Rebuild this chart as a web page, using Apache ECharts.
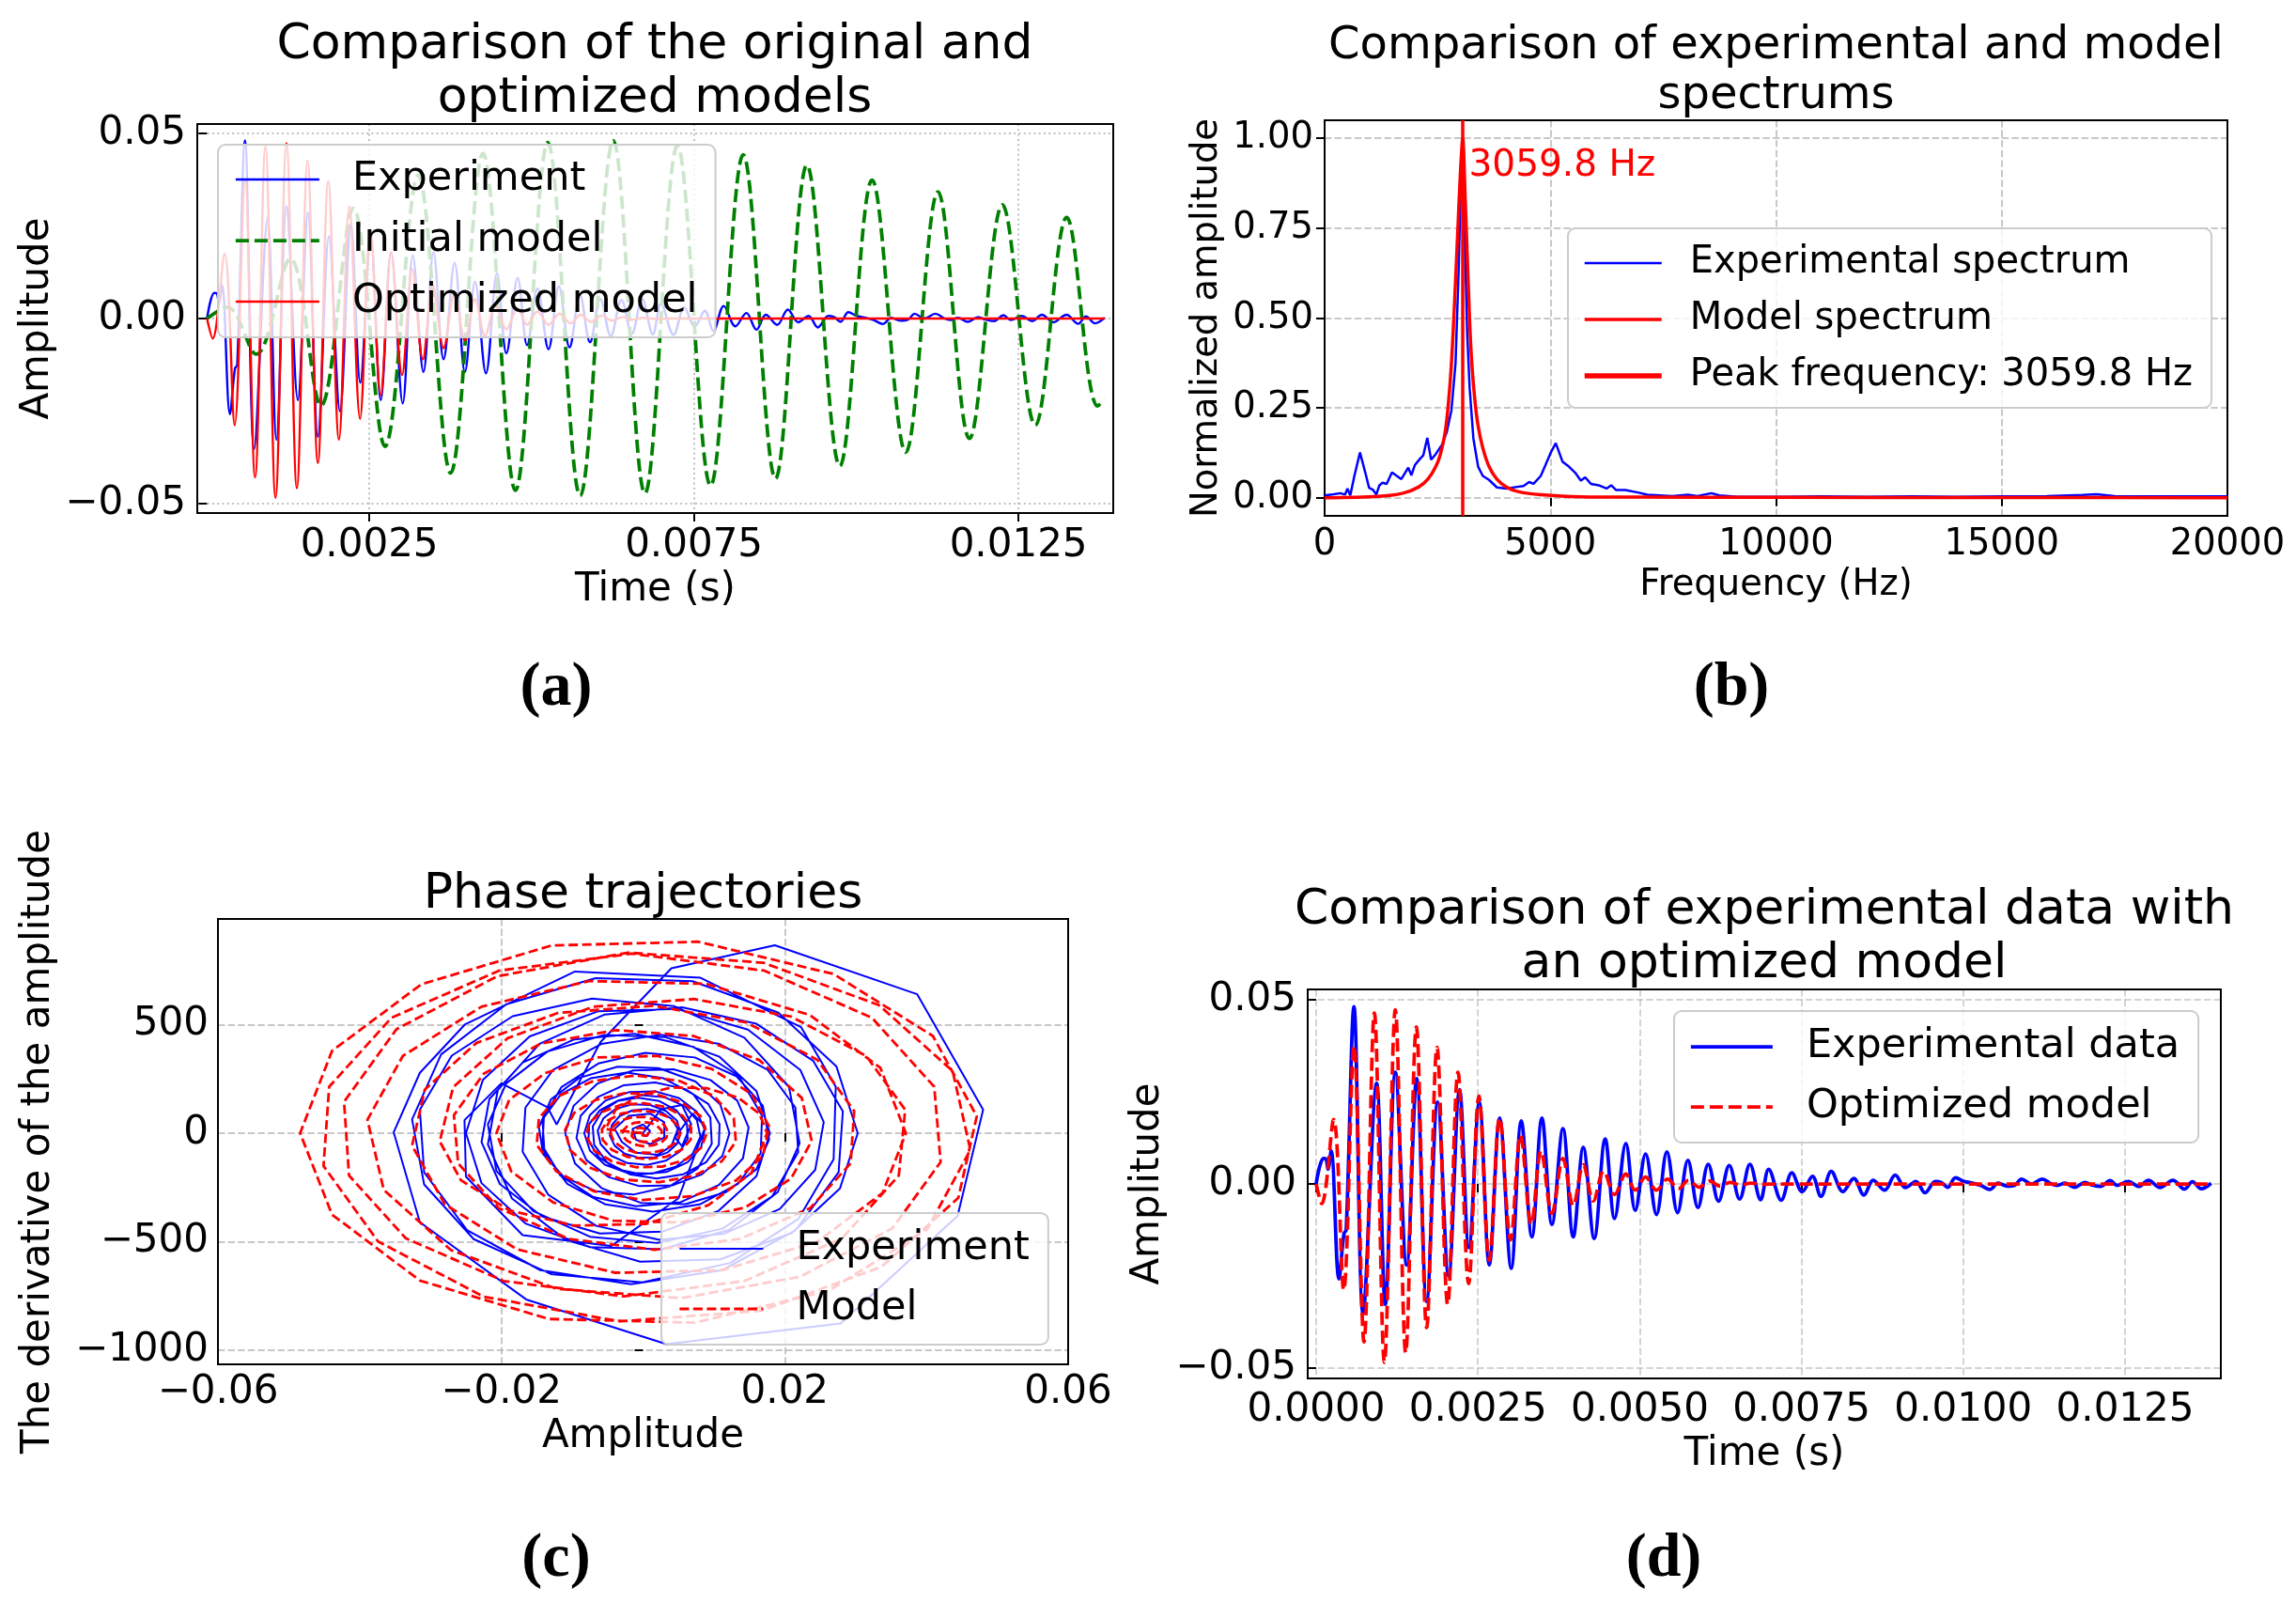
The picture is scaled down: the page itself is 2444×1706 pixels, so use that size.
<!DOCTYPE html>
<html><head><meta charset="utf-8">
<script src="https://cdn.jsdelivr.net/npm/echarts@6/dist/echarts.min.js"></script>
<style>html,body{margin:0;padding:0;background:#fff}#c{width:2444px;height:1706px}</style>
</head><body><div id="c"></div>
<script>
// ---------- (a)/(d) time signals: [time (s), amplitude] ----------
const experimentSignal = [
[0,0],[0.000111,0.0069],[0.000150,0.0068],[0.000184,0.0040],[0.000232,0.0090],[0.000353,-0.0258],[0.000430,-0.0135],[0.000465,-0.0125],
[0.000585,0.0481],[0.000726,-0.0352],[0.000934,0.0273],[0.001069,-0.0327],[0.001224,0.0303],[0.001399,-0.0220],[0.001553,0.0286],
[0.001708,-0.0319],[0.001878,0.0222],[0.002047,-0.0250],[0.002216,0.0256],[0.002361,-0.0173],[0.002521,0.0222],[0.002676,-0.0220],
[0.002836,0.0179],[0.003015,-0.0229],[0.003170,0.0171],[0.003334,-0.0144],[0.003489,0.0179],[0.003644,-0.0110],[0.003814,0.0150],
[0.003973,-0.0144],[0.004128,0.0099],[0.004297,-0.0148],[0.004467,0.0122],[0.004612,-0.0094],[0.004786,0.0110],[0.004931,-0.0072],
[0.005091,0.0081],[0.005260,-0.0083],[0.005420,0.0087],[0.005585,-0.0078],[0.005745,0.0064],[0.005900,-0.0064],[0.006059,0.0053],
[0.006219,-0.0047],[0.006384,0.0050],[0.006544,-0.0041],[0.006703,0.0053],[0.006868,-0.0043],[0.006993,0.0040],[0.007187,-0.0044],
[0.007351,0.0030],[0.007511,-0.0021],[0.007670,0.0021],[0.007800,-0.0034],[0.007960,0.0034],[0.008139,-0.0021],[0.008309,0.0015],
[0.008464,-0.0030],[0.008609,0.0010],[0.008783,-0.0017],[0.008948,0.0024],[0.009107,-0.0010],[0.009267,0.0007],[0.009410,-0.0024],
[0.009570,0.0007],[0.009660,0.0004],[0.009760,-0.0009],[0.009880,0.0017],[0.010010,0.0007],[0.010150,0.0002],[0.010270,-0.0004],
[0.010410,-0.0015],[0.010540,0.0002],[0.010680,-0.0006],[0.010800,-0.0003],[0.010900,0.0013],[0.011050,0.0000],[0.011220,0.0013],
[0.011360,0.0000],[0.011450,-0.0004],[0.011570,0.0002],[0.011720,-0.0009],[0.011880,0.0004],[0.011990,-0.0003],[0.012120,-0.0007],
[0.012270,0.0009],[0.012380,-0.0004],[0.012550,0.0007],[0.012710,-0.0007],[0.012860,0.0010],[0.013040,-0.0010],[0.013240,0.0010],
[0.013420,-0.0014],[0.013540,0.0006],[0.013680,-0.0013],[0.013830,0.0002]
];
const optimizedModelSignal = [
[0,0],[0.000087,-0.0054],[0.000271,0.0175],[0.000426,-0.0288],[0.000585,0.0375],[0.000740,-0.0429],[0.000900,0.0464],[0.001055,-0.0484],
[0.001224,0.0473],[0.001384,-0.0458],[0.001549,0.0426],[0.001708,-0.0390],[0.001868,0.0371],[0.002033,-0.0327],[0.002192,0.0303],
[0.002357,-0.0271],[0.002516,0.0239],[0.002676,-0.0207],[0.002836,0.0179],[0.003005,-0.0152],[0.003160,0.0133],[0.003325,-0.0110],
[0.003475,0.0090],[0.003644,-0.0080],[0.003814,0.0069],[0.003973,-0.0059],[0.004128,0.0052],[0.004283,-0.0046],[0.004443,0.0035],
[0.004612,-0.0029],[0.004786,0.0027],[0.004931,-0.0017],[0.005090,0.0019],[0.005260,-0.0017],[0.005430,0.0013],[0.005600,-0.0013],
[0.005755,0.0010],[0.005920,-0.0009],[0.006080,0.0008],[0.006240,-0.0006],[0.006400,0.0004],[0.006560,-0.0003],[0.006720,0.0002],
[0.006900,-0.0001],[0.007100,0],[0.013830,0]
];
const initialModelSignal = [
[0,0],[0.000312,0.0031],[0.000757,-0.0096],[0.001283,0.0162],[0.001755,-0.0235],[0.002254,0.0298],[0.002742,-0.0345],[0.003252,0.0387],
[0.003752,-0.0417],[0.004251,0.0446],[0.004751,-0.0464],[0.005249,0.0475],[0.005748,-0.0478],[0.006258,0.0480],[0.006746,-0.0472],
[0.007246,0.0467],[0.007757,-0.0451],[0.008260,0.0442],[0.008757,-0.0432],[0.009241,0.0414],[0.009748,-0.0398],[0.010245,0.0374],
[0.010764,-0.0361],[0.011260,0.0342],[0.011745,-0.0324],[0.012252,0.0307],[0.012759,-0.0288],[0.013243,0.0273],[0.013720,-0.0236],
[0.013830,-0.0220]
];
// ---------- (b) spectra: [frequency (Hz), normalized amplitude] ----------
const experimentalSpectrum = [
[0,0.007],[208,0.010],[347,0.013],[451,0.009],[506,0.026],[569,0.007],[659,0.061],[784,0.126],[902,0.070],[985,0.028],[1075,0.022],
[1145,0.009],[1214,0.035],[1283,0.042],[1374,0.039],[1492,0.071],[1700,0.052],[1853,0.084],[1922,0.063],[1998,0.091],[2116,0.109],
[2185,0.118],[2275,0.167],[2359,0.106],[2463,0.122],[2602,0.148],[2706,0.183],[2810,0.244],[2900,0.374],[2970,0.635],[3025,0.930],
[3067,0.870],[3109,0.705],[3157,0.461],[3213,0.305],[3296,0.165],[3400,0.087],[3504,0.061],[3643,0.050],[3816,0.029],[4025,0.026],
[4233,0.030],[4406,0.033],[4531,0.044],[4628,0.039],[4788,0.061],[4892,0.091],[5010,0.126],[5121,0.152],[5273,0.100],[5412,0.087],
[5551,0.070],[5676,0.048],[5773,0.057],[5898,0.039],[6071,0.035],[6245,0.026],[6349,0.035],[6453,0.022],[6661,0.022],[6939,0.015],
[7147,0.009],[7425,0.007],[7702,0.005],[8049,0.009],[8257,0.005],[8570,0.013],[8743,0.007],[9159,0.003],[10200,0.003],[11000,0.004],
[12000,0.003],[13000,0.004],[14000,0.003],[15000,0.004],[16000,0.005],[16800,0.008],[17100,0.010],[17500,0.005],[18000,0.004],
[19000,0.004],[20000,0.004]
];
const modelSpectrum = [
[0,0.000],[1180,0.004],[1735,0.013],[2081,0.030],[2289,0.052],[2463,0.087],[2567,0.122],[2671,0.183],[2741,0.261],[2810,0.374],
[2880,0.548],[2949,0.740],[3005,0.896],[3060,1.000],[3109,0.853],[3171,0.635],[3240,0.418],[3317,0.287],[3400,0.200],[3504,0.139],
[3643,0.087],[3816,0.052],[4025,0.030],[4302,0.017],[4788,0.009],[5690,0.003],[7000,0.002],[10000,0.0015],[15000,0.001],[20000,0.0005]
];
const peakFrequency = 3059.8;
const peakLabelLevel = 0.922;
// ---------- (c) phase trajectories: [amplitude, derivative] ----------
const phaseExperiment = [
[0,0],[0.0025,110],[0.0055,130],[0.0068,40],[0.0055,-60],[0.0045,-20],[0.0070,90],[0.0088,30],[0.0050,-300],[-0.0045,-520],[-0.0170,-470],
[-0.0250,-200],[-0.0252,60],[-0.0200,230],[-0.0135,120],[-0.0122,40],[-0.0060,420],[0.0040,760],[0.0186,866],[0.0387,640],[0.0480,108],
[0.0444,-381],[0.0279,-877],[0.0033,-972],[-0.0165,-766],[-0.0315,-410],[-0.0352,4],[-0.0315,278],[-0.0251,502],[-0.0096,745],
[0.0081,716],[0.0223,489],[0.0272,214],
[0.0269,-120],[0.0219,-396],[0.0123,-598],[-0.0001,-687],[-0.0130,-649],[-0.0239,-488],[-0.0309,-236],
[-0.0326,63],[-0.0285,363],[-0.0193,594],[-0.0067,714],[0.0070,700],[0.0191,555],[0.0273,307],
[0.0303,0],[0.0278,-254],[0.0210,-460],[0.0109,-581],[-0.0004,-592],[-0.0109,-492],[-0.0185,-301],[-0.0219,-52],
[-0.0205,199],[-0.0146,412],[-0.0054,547],[0.0055,580],[0.0160,504],[0.0240,334],[0.0282,101],
[0.0276,-180],[0.0215,-448],[0.0112,-631],[-0.0017,-696],[-0.0145,-631],[-0.0248,-448],[-0.0309,-180],
[-0.0315,108],[-0.0270,357],[-0.0184,539],[-0.0072,620],[0.0044,585],[0.0143,440],[0.0206,213],
[0.0221,-47],[0.0190,-272],[0.0122,-445],[0.0027,-535],[-0.0075,-525],[-0.0166,-416],[-0.0228,-230],
[-0.0250,0],[-0.0226,246],[-0.0160,446],[-0.0063,562],[0.0047,573],[0.0148,477],[0.0222,291],[0.0255,51],
[0.0243,-169],[0.0193,-349],[0.0115,-463],[0.0023,-491],[-0.0066,-427],[-0.0134,-283],[-0.0170,-86],
[-0.0166,118],[-0.0127,292],[-0.0059,411],[0.0025,454],[0.0108,411],[0.0176,292],[0.0215,118],
[0.0219,-88],[0.0182,-292],[0.0112,-440],[0.0020,-506],[-0.0075,-477],[-0.0155,-359],[-0.0207,-174],
[-0.0219,40],[-0.0193,230],[-0.0135,376],[-0.0055,452],[0.0031,443],[0.0108,352],[0.0160,194],
[0.0179,0],[0.0160,-198],[0.0106,-359],[0.0028,-453],[-0.0061,-462],[-0.0142,-384],[-0.0202,-235],[-0.0228,-41],
[-0.0217,157],[-0.0170,325],[-0.0097,432],[-0.0012,458],[0.0071,398],[0.0135,264],[0.0168,80],
[0.0166,-94],[0.0134,-233],[0.0080,-328],[0.0014,-362],[-0.0053,-328],[-0.0107,-233],[-0.0139,-94],
[-0.0142,64],[-0.0115,213],[-0.0063,321],[0.0003,370],[0.0073,349],[0.0132,262],[0.0169,127],
[0.0178,-29],[0.0160,-166],[0.0117,-272],[0.0060,-327],[-0.0003,-321],[-0.0058,-254],[-0.0096,-140],
[-0.0110,0],[-0.0098,126],[-0.0064,229],[-0.0014,289],[0.0043,294],[0.0095,245],[0.0133,150],[0.0149,26],
[0.0141,-116],[0.0107,-239],[0.0053,-318],[-0.0010,-337],[-0.0071,-293],[-0.0117,-194],[-0.0142,-59],
[-0.0140,72],[-0.0116,179],[-0.0074,253],[-0.0023,279],[0.0029,253],[0.0071,179],[0.0095,72],
[0.0097,-49],[0.0077,-163],[0.0037,-246],[-0.0014,-283],[-0.0067,-267],[-0.0112,-201],[-0.0141,-97],
[-0.0147,27],[-0.0130,156],[-0.0090,255],[-0.0036,306],[0.0022,300],[0.0074,238],[0.0109,132],
[0.0122,0],[0.0112,-105],[0.0083,-190],[0.0042,-240],[-0.0005,-244],[-0.0048,-203],[-0.0080,-124],[-0.0094,-22],
[-0.0088,80],[-0.0064,166],[-0.0027,221],[0.0017,234],[0.0059,204],[0.0092,135],[0.0108,41],
[0.0107,-54],[0.0089,-134],[0.0057,-189],[0.0019,-209],[-0.0019,-189],[-0.0051,-134],[-0.0069,-54],
[-0.0071,31],[-0.0058,101],[-0.0034,152],[-0.0002,175],[0.0031,165],[0.0059,124],[0.0076,60],
[0.0081,-16],[0.0070,-95],[0.0046,-155],[0.0013,-186],[-0.0022,-183],[-0.0054,-145],[-0.0075,-80],
[-0.0083,0],[-0.0075,83],[-0.0053,150],[-0.0020,189],[0.0017,193],[0.0051,161],[0.0076,98],[0.0087,17],
[0.0082,-65],[0.0063,-134],[0.0033,-179],[-0.0003,-189],[-0.0037,-165],[-0.0063,-109],[-0.0077,-33],
[-0.0076,42],[-0.0061,105],[-0.0037,148],[-0.0007,163],[0.0023,148],[0.0047,105],[0.0062,42],
[0.0063,-26],[0.0052,-84],[0.0032,-127],[0.0006,-146],[-0.0022,-138],[-0.0045,-104],[-0.0060,-50],
[-0.0064,12],[-0.0056,68],[-0.0039,111],[-0.0016,133],[0.0010,130],[0.0032,103],[0.0048,57],
[0.0053,0],[0.0048,-49],[0.0035,-88],[0.0016,-111],[-0.0006,-113],[-0.0026,-94],[-0.0040,-58],[-0.0047,-10],
[-0.0044,38],[-0.0033,79],[-0.0015,105],[0.0006,112],[0.0026,97],[0.0041,64],[0.0049,19],
[0.0040,-60],[0.0020,-100],[-0.0010,-90],[-0.0030,-40],[-0.0040,20],[-0.0020,80],[0.0010,90],[0.0030,50],[0.0030,-20],
[0.0010,-50],[-0.0010,-30],[-0.0015,20],[0,40],[0.0010,10],[0.0005,-15],[-0.0005,5]
];
const phaseModel = [
[0,0],[-0.0053,19],[-0.0039,107],[-0.0005,175],[0.0041,211],[0.0090,207],[0.0134,164],[0.0164,91],
[0.0175,0],[0.0153,-183],[0.0092,-332],[0.0004,-418],[-0.0097,-426],[-0.0189,-355],[-0.0257,-217],[-0.0287,-38],
[-0.0268,212],[-0.0191,438],[-0.0070,583],[0.0072,618],[0.0209,537],[0.0315,356],[0.0370,108],
[0.0361,-195],[0.0281,-484],[0.0143,-681],[-0.0027,-752],[-0.0197,-681],[-0.0335,-484],[-0.0415,-195],
[-0.0422,145],[-0.0348,479],[-0.0206,723],[-0.0021,832],[0.0170,785],[0.0333,590],[0.0437,286],
[0.0462,-77],[0.0401,-443],[0.0262,-726],[0.0073,-873],[-0.0133,-856],[-0.0315,-679],[-0.0439,-375],
[-0.0484,0],[-0.0439,379],[-0.0313,686],[-0.0129,865],[0.0078,882],[0.0269,733],[0.0409,448],[0.0471,78],
[0.0445,-298],[0.0337,-615],[0.0167,-818],[-0.0033,-867],[-0.0225,-753],[-0.0374,-499],[-0.0451,-151],
[-0.0443,214],[-0.0355,532],[-0.0203,749],[-0.0016,827],[0.0171,749],[0.0323,532],[0.0411,214],
[0.0420,-133],[0.0352,-438],[0.0222,-661],[0.0054,-760],[-0.0122,-717],[-0.0271,-539],[-0.0366,-261],
[-0.0389,62],[-0.0339,356],[-0.0228,583],[-0.0076,701],[0.0089,688],[0.0235,545],[0.0335,301],
[0.0371,0],[0.0338,-276],[0.0246,-500],[0.0112,-631],[-0.0039,-643],[-0.0178,-535],[-0.0280,-327],[-0.0326,-57],
[-0.0308,201],[-0.0235,416],[-0.0120,554],[0.0015,587],[0.0146,510],[0.0246,338],[0.0298,102],
[0.0293,-139],[0.0236,-345],[0.0137,-487],[0.0016,-537],[-0.0105,-487],[-0.0204,-345],[-0.0261,-139],
[-0.0267,83],[-0.0225,274],[-0.0144,413],[-0.0038,475],[0.0071,448],[0.0164,337],[0.0224,163],
[0.0238,-36],[0.0209,-209],[0.0144,-342],[0.0055,-411],[-0.0042,-403],[-0.0127,-319],[-0.0186,-176],
[-0.0207,0],[-0.0189,153],[-0.0138,277],[-0.0064,349],[0.0020,356],[0.0097,296],[0.0153,181],[0.0178,31],
[0.0169,-106],[0.0131,-218],[0.0070,-290],[-0.0001,-308],[-0.0069,-268],[-0.0122,-177],[-0.0150,-54],
[-0.0147,69],[-0.0119,171],[-0.0070,241],[-0.0010,266],[0.0051,241],[0.0100,171],[0.0128,69],
[0.0131,-39],[0.0111,-130],[0.0072,-197],[0.0022,-226],[-0.0030,-213],[-0.0074,-160],[-0.0103,-78],
[-0.0110,16],[-0.0097,94],[-0.0067,153],[-0.0027,184],[0.0016,181],[0.0054,143],[0.0081,79],
[0.0090,0],[0.0082,-67],[0.0060,-122],[0.0027,-154],[-0.0010,-157],[-0.0044,-130],[-0.0069,-80],[-0.0080,-14],
[-0.0076,48],[-0.0058,98],[-0.0031,131],[0.0001,138],[0.0032,120],[0.0056,80],[0.0068,24],
[0.0067,-31],[0.0054,-77],[0.0032,-109],[0.0005,-120],[-0.0022,-109],[-0.0044,-77],[-0.0057,-31],
[-0.0058,18],[-0.0049,60],[-0.0031,90],[-0.0008,104],[0.0016,98],[0.0036,74],[0.0049,36],
[0.0052,-8],[0.0045,-46],[0.0031,-75],[0.0012,-91],[-0.0010,-89],[-0.0028,-70],[-0.0041,-39],
[-0.0046,0],[-0.0042,32],[-0.0032,58],[-0.0016,73],[0.0002,75],[0.0018,62],[0.0030,38],[0.0035,7],
[0.0033,-21],[0.0026,-42],[0.0014,-56],[0.0000,-60],[-0.0013,-52],[-0.0023,-34],[-0.0029,-10],
[-0.0028,13],[-0.0022,33],[-0.0013,47],[-0.0001,52],[0.0011,47],[0.0020,33],[0.0026,13],
[0.0027,-7],[0.0023,-24],[0.0016,-36],[0.0007,-41],[-0.0003,-39],[-0.0011,-29],[-0.0016,-14],
[-0.0015,5],[-0.0011,20],[-0.0004,25],[0.0004,18],[0.0008,4],[0.0006,-9],[0.0001,-12],[-0.0003,-5],[0,0]
];
// ---------- text ----------
const titles = {
  a: 'Comparison of the original and\noptimized models',
  b: 'Comparison of experimental and model\nspectrums',
  c: 'Phase trajectories',
  d: 'Comparison of experimental data with\nan optimized model'
};
const panelLabels = ['(a)', '(b)', '(c)', '(d)'];
const aTickOffset = 0.0025; // panel (a) shows ticks at 0.0025 + k*0.005

// ---------- styling ----------
const FONT = 'DejaVu Sans';
const BLUE = '#0000ff', RED = '#ff0000', GREEN = '#008000';
const minus = s => s.replace('-', '\u2212');
const tick = {show: true, inside: false, length: 9, lineStyle: {color: '#000', width: 2}};
function nameStyle(fs) { return {fontSize: fs, color: '#000', fontFamily: FONT, lineHeight: Math.round(fs * 1.19)}; }
function xLabel(fmt, margin, hideEnds, fs) {
  return {fontSize: fs || 42, color: '#000', fontFamily: FONT, margin: margin, formatter: fmt,
          showMinLabel: !hideEnds, showMaxLabel: !hideEnds};
}
function yLabel(fmt, margin, fs) {
  return {fontSize: fs || 42, color: '#000', fontFamily: FONT, margin: margin, formatter: fmt,
          showMinLabel: false, showMaxLabel: false, padding: [6, 0, 0, 0]};
}
function split(type, color) {
  return {show: true, showMinLine: false, showMaxLine: false, lineStyle: {type: type, color: color, width: 2}};
}
const DOT = [2, 3.3], DASH = [7.4, 3.2];

function titleOpt(text, cx, top, fs, lh) {
  return {text: text, left: cx, top: top, textAlign: 'center', textVerticalAlign: 'top', padding: 0,
          textStyle: {fontSize: fs, fontWeight: 'normal', lineHeight: lh, color: '#000', fontFamily: FONT}};
}
function legendOpt(left, top, pad, iw, gap, fs, lh, tpad, data) {
  return {orient: 'vertical', left: left, top: top, padding: pad, itemWidth: iw, itemHeight: 20, itemGap: gap,
          backgroundColor: 'rgba(255,255,255,0.8)', borderColor: '#cccccc', borderWidth: 2, borderRadius: 8,
          selectedMode: false, itemStyle: {opacity: 0}, z: 6,
          textStyle: {fontSize: fs, lineHeight: lh, color: '#000', fontFamily: FONT, padding: [0, 0, 0, tpad]},
          data: data};
}
function line(name, xi, yi, data, color, width, dash, smooth) {
  return {name: name, type: 'line', xAxisIndex: xi, yAxisIndex: yi, data: data, color: color,
          symbol: 'none', showSymbol: false, smooth: smooth || false, animation: false, silent: true,
          lineStyle: {color: color, width: width, type: dash || 'solid'}};
}
function gridOpt(left, top, width, height) {
  return {left: left, top: top, width: width, height: height, show: true, z: 3,
          borderColor: '#000', borderWidth: 2, backgroundColor: 'transparent'};
}

const chart = echarts.init(document.getElementById('c'), null, {renderer: 'canvas', devicePixelRatio: 1});

const option = {
  animation: false,
  backgroundColor: '#ffffff',
  textStyle: {fontFamily: FONT},
  title: [
    titleOpt(titles.a, 697, 20, 52, 57),
    titleOpt(titles.b, 1890.5, 23, 48, 53),
    titleOpt(titles.c, 684.5, 924, 52, 57),
    titleOpt(titles.d, 1878, 941, 52, 57)
  ],
  grid: [
    gridOpt(210, 132, 975, 414),
    gridOpt(1410, 128, 961, 421),
    gridOpt(232, 978, 905, 474),
    gridOpt(1392, 1053, 972, 414)
  ],
  xAxis: [
    {gridIndex: 0, type: 'value', min: -0.00015, max: 0.01396, show: false},
    {gridIndex: 0, type: 'value', position: 'bottom', min: -0.00015 - aTickOffset, max: 0.01396 - aTickOffset,
     minInterval: 0.005, maxInterval: 0.005, axisLine: {show: false}, axisTick: tick,
     axisLabel: xLabel(v => (v + aTickOffset).toFixed(4), 14, true), splitLine: split(DOT, 'rgba(176,176,176,0.8)'),
     name: 'Time (s)', nameLocation: 'middle', nameGap: 53, nameTextStyle: nameStyle(42)},
    {gridIndex: 1, type: 'value', min: 0, max: 20000, interval: 5000, axisLine: {show: false}, axisTick: tick,
     axisLabel: xLabel(v => String(v), 11, false, 38.5), splitLine: split(DASH, 'rgba(176,176,176,0.7)'),
     name: 'Frequency (Hz)', nameLocation: 'middle', nameGap: 47, nameTextStyle: nameStyle(38.5)},
    {gridIndex: 2, type: 'value', min: -0.06, max: 0.06, interval: 0.04, axisLine: {show: false}, axisTick: tick,
     axisLabel: xLabel(v => minus(v.toFixed(2)), 9, false), splitLine: split(DASH, 'rgba(176,176,176,0.7)'),
     name: 'Amplitude', nameLocation: 'middle', nameGap: 52, nameTextStyle: nameStyle(42)},
    {gridIndex: 3, type: 'value', min: -0.00013, max: 0.01398, minInterval: 0.0025, maxInterval: 0.0025,
     axisLine: {show: false}, axisTick: tick,
     axisLabel: xLabel(v => v.toFixed(4), 13, true), splitLine: split(DASH, 'rgba(176,176,176,0.55)'),
     name: 'Time (s)', nameLocation: 'middle', nameGap: 51, nameTextStyle: nameStyle(42)}
  ],
  yAxis: [
    {gridIndex: 0, type: 'value', min: -0.0525, max: 0.0525, minInterval: 0.05, maxInterval: 0.05,
     axisLine: {show: false}, axisTick: tick, axisLabel: yLabel(v => minus(v.toFixed(2)), 12),
     splitLine: split(DOT, 'rgba(176,176,176,0.8)'),
     name: 'Amplitude', nameLocation: 'middle', nameGap: 144, nameTextStyle: nameStyle(42)},
    {gridIndex: 1, type: 'value', min: -0.05, max: 1.05, minInterval: 0.25, maxInterval: 0.25,
     axisLine: {show: false}, axisTick: tick, axisLabel: yLabel(v => v.toFixed(2), 12, 38.5),
     splitLine: split(DASH, 'rgba(176,176,176,0.7)'),
     name: 'Normalized amplitude', nameLocation: 'middle', nameGap: 95, nameTextStyle: nameStyle(38.5)},
    {gridIndex: 2, type: 'value', min: -1065, max: 987, minInterval: 500, maxInterval: 500,
     axisLine: {show: false}, axisTick: tick, axisLabel: yLabel(v => minus(String(v)), 10),
     splitLine: split(DASH, 'rgba(176,176,176,0.7)'),
     name: 'The derivative of the amplitude', nameLocation: 'middle', nameGap: 166, nameTextStyle: nameStyle(42)},
    {gridIndex: 3, type: 'value', min: -0.0528, max: 0.0528, minInterval: 0.05, maxInterval: 0.05,
     axisLine: {show: false}, axisTick: tick, axisLabel: yLabel(v => minus(v.toFixed(2)), 12),
     splitLine: split(DASH, 'rgba(176,176,176,0.55)'),
     name: 'Amplitude', nameLocation: 'middle', nameGap: 142.5, nameTextStyle: nameStyle(42)}
  ],
  legend: [
    legendOpt(232, 154, [12, 19, 13, 17], 89, 15, 43, 50, 30, [
      {name: 'Experiment', lineStyle: {width: 2.4}},
      {name: 'Initial model', lineStyle: {width: 3.75, type: [14, 6]}},
      {name: 'Optimized model', lineStyle: {width: 2.4, type: 'solid'}}]),
    legendOpt(1669, 243, [14, 20, 11, 15], 82, 14, 40, 46, 25, [
      {name: 'Experimental spectrum', lineStyle: {width: 2.5}},
      {name: 'Model spectrum', lineStyle: {width: 3.5}},
      {name: 'Peak frequency: 3059.8 Hz', lineStyle: {width: 5.5}}]),
    legendOpt(704, 1291, [13, 20, 13, 18], 89, 14, 43, 50, 30, [
      {name: 'Experiment', lineStyle: {width: 2}},
      {name: 'Model', lineStyle: {width: 2.8, type: [10, 4.5]}}]),
    legendOpt(1782, 1076, [13, 20, 13, 16], 87, 14, 43, 50, 31, [
      {name: 'Experimental data', lineStyle: {width: 3.75}},
      {name: 'Optimized model', lineStyle: {width: 3.75, type: [14, 6]}}])
  ],
  series: [
    // (a)
    line('Experiment', 0, 0, experimentSignal, BLUE, 2.4, 'solid', 0.36),
    line('Initial model', 0, 0, initialModelSignal, GREEN, 3.75, [14, 6], 0.36),
    line('Optimized model', 0, 0, optimizedModelSignal, RED, 2.4, 'solid', 0.36),
    // (b)
    line('Experimental spectrum', 2, 1, experimentalSpectrum, BLUE, 2.5, 'solid', false),
    Object.assign(line('Model spectrum', 2, 1, modelSpectrum, RED, 3.5, 'solid', 0.3), {
      markLine: {silent: true, animation: false, symbol: ['none', 'none'], label: {show: false},
                 lineStyle: {color: RED, width: 3.5, type: 'solid'}, data: [{xAxis: peakFrequency}]},
      markPoint: {silent: true, animation: false, symbol: 'circle', symbolSize: 1, itemStyle: {color: 'rgba(0,0,0,0)'},
                  label: {show: true, position: 'right', distance: 6, formatter: peakFrequency.toFixed(1) + ' Hz',
                          color: RED, fontSize: 39, fontFamily: FONT},
                  data: [{coord: [peakFrequency, peakLabelLevel]}]}
    }),
    line('Peak frequency: 3059.8 Hz', 2, 1, [], RED, 5.5, 'solid', false),
    // (c)
    line('Experiment', 3, 2, phaseExperiment, BLUE, 2, 'solid', false),
    line('Model', 3, 2, phaseModel, RED, 2.8, [10, 4.5], false),
    // (d)
    line('Experimental data', 4, 3, experimentSignal, BLUE, 3.75, 'solid', 0.36),
    line('Optimized model', 4, 3, optimizedModelSignal, RED, 3.75, [14, 6], 0.36)
  ],
  graphic: [
    {type: 'text', x: 592, y: 733, style: {text: panelLabels[0], fill: '#000', font: 'bold 66px "Liberation Serif"', align: 'center', verticalAlign: 'middle'}},
    {type: 'text', x: 1843, y: 733, style: {text: panelLabels[1], fill: '#000', font: 'bold 66px "Liberation Serif"', align: 'center', verticalAlign: 'middle'}},
    {type: 'text', x: 592, y: 1660, style: {text: panelLabels[2], fill: '#000', font: 'bold 66px "Liberation Serif"', align: 'center', verticalAlign: 'middle'}},
    {type: 'text', x: 1771, y: 1660, style: {text: panelLabels[3], fill: '#000', font: 'bold 66px "Liberation Serif"', align: 'center', verticalAlign: 'middle'}}
  ]
};
chart.setOption(option);
</script></body></html>
